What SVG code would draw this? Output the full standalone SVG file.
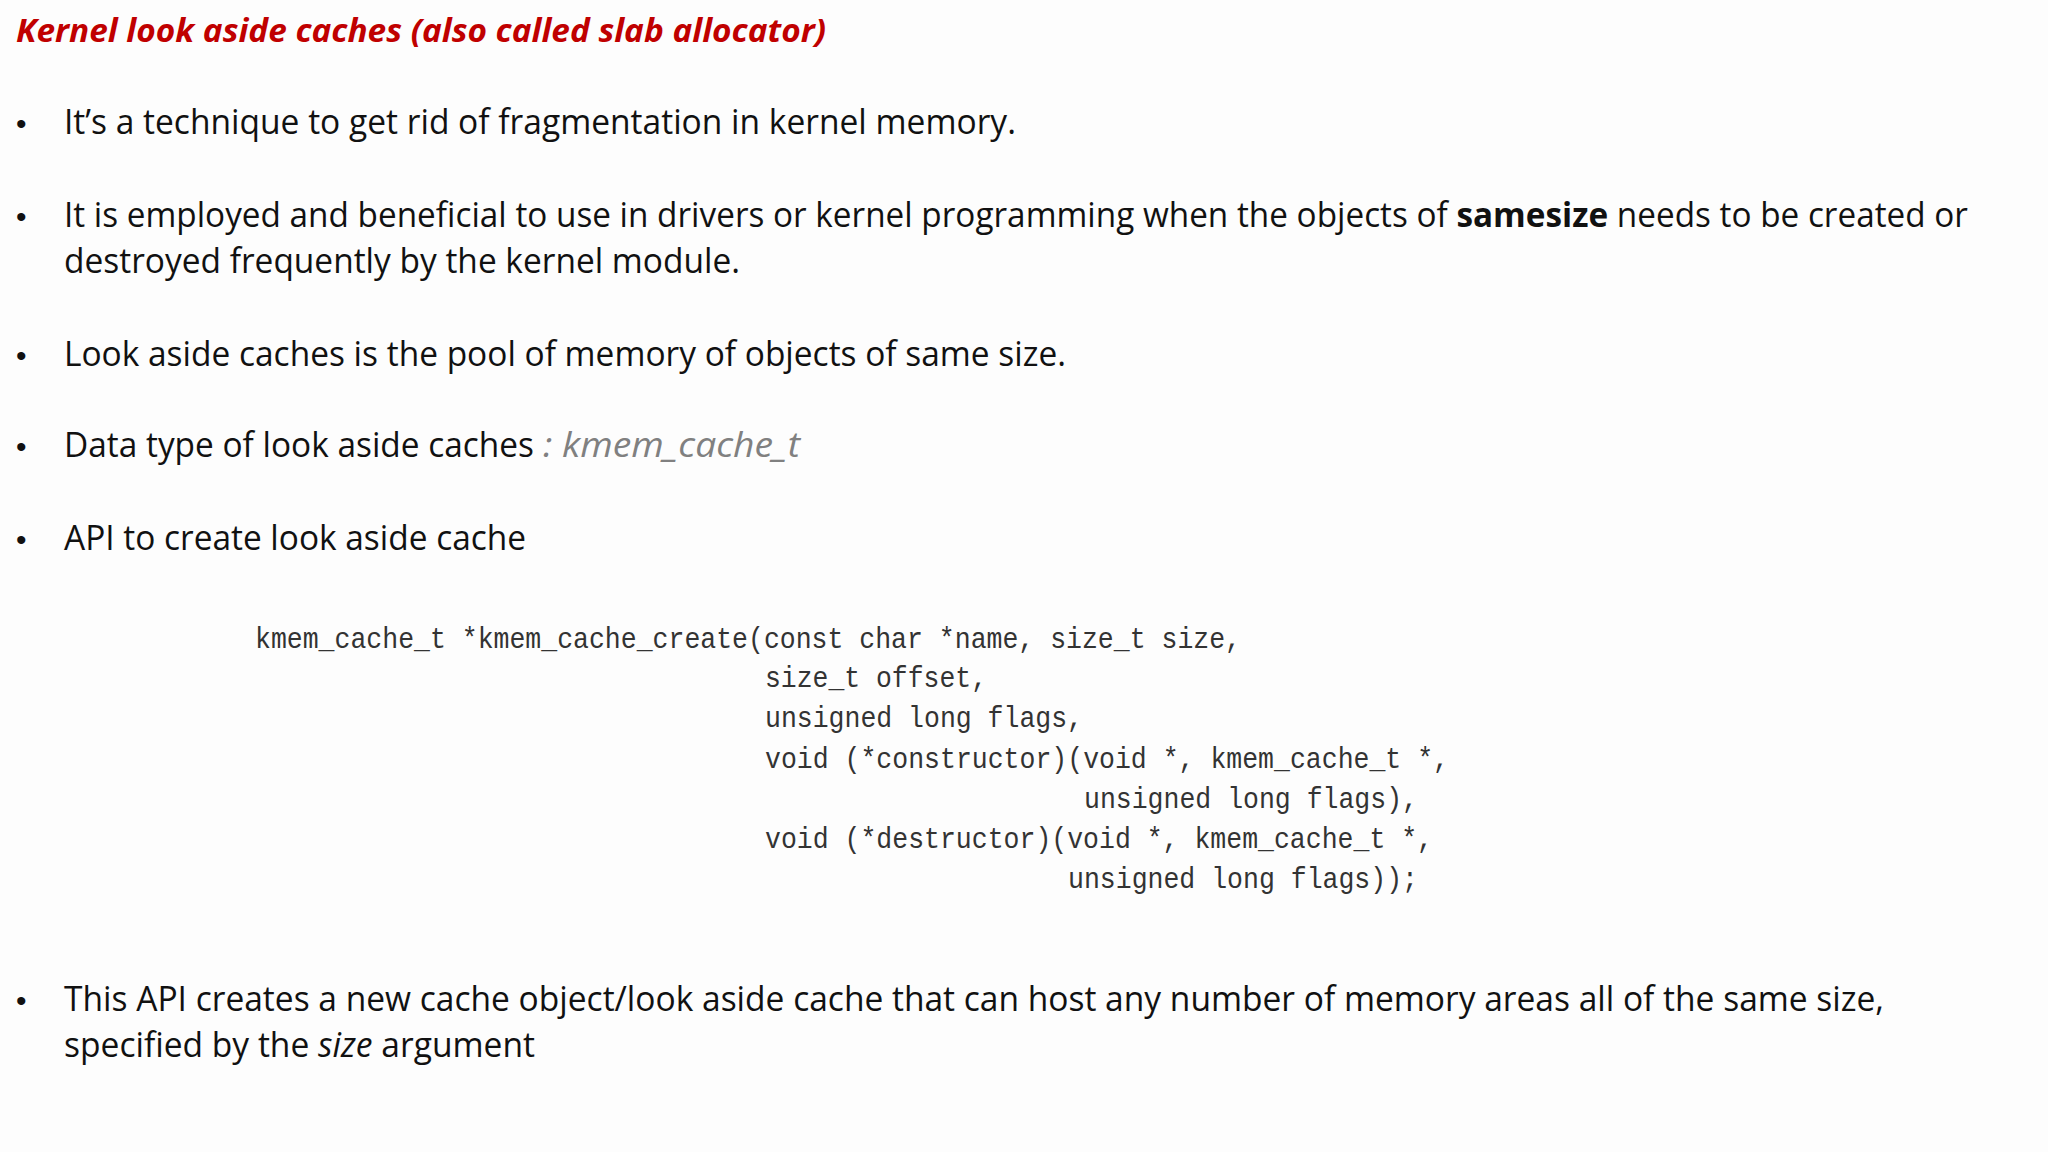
<svg xmlns="http://www.w3.org/2000/svg" width="2048" height="1152" viewBox="0 0 2048 1152">
<style>
.t{font-family:"Open Sans","Liberation Sans",sans-serif;font-size:34px;fill:#111}
.b{font-family:"Liberation Sans",sans-serif;font-size:30px;fill:#111}
.c{font-family:"Liberation Mono",monospace;font-size:29px;fill:#333}
</style>
<rect width="2048" height="1152" fill="#fdfdfd"/>
<text x="16" y="42" font-family="Open Sans, Liberation Sans, sans-serif" font-size="33" font-weight="bold" font-style="italic" fill="#C00000" textLength="810" lengthAdjust="spacingAndGlyphs">Kernel look aside caches (also called slab allocator)</text>
<g id="bullets">
<text class="b" x="16" y="134">•</text>
<text class="b" x="16" y="227">•</text>
<text class="b" x="16" y="366">•</text>
<text class="b" x="16" y="457">•</text>
<text class="b" x="16" y="550">•</text>
<text class="b" x="16" y="1011">•</text>
</g>
<g id="text">
<text class="t" x="64" y="134" textLength="952" lengthAdjust="spacingAndGlyphs">It’s a technique to get rid of fragmentation in kernel memory.</text>
<text class="t" x="64" y="227" textLength="1904" lengthAdjust="spacingAndGlyphs">It is employed and beneficial to use in drivers or kernel programming when the objects of <tspan font-weight="bold">samesize</tspan> needs to be created or</text>
<text class="t" x="64" y="273" textLength="676" lengthAdjust="spacingAndGlyphs">destroyed frequently by the kernel module.</text>
<text class="t" x="64" y="366" textLength="1002" lengthAdjust="spacingAndGlyphs">Look aside caches is the pool of memory of objects of same size.</text>
<text class="t" x="64" y="457" textLength="470" lengthAdjust="spacingAndGlyphs">Data type of look aside caches</text>
<text class="t" x="543" y="457" textLength="257" lengthAdjust="spacingAndGlyphs" font-style="italic" fill="#808080" style="fill:#808080">: kmem_cache_t</text>
<text class="t" x="64" y="550" textLength="462" lengthAdjust="spacingAndGlyphs">API to create look aside cache</text>
<text class="t" x="64" y="1011" textLength="1820" lengthAdjust="spacingAndGlyphs">This API creates a new cache object/look aside cache that can host any number of memory areas all of the same size,</text>
<text class="t" x="64" y="1057" textLength="471" lengthAdjust="spacingAndGlyphs">specified by the <tspan font-style="italic">size</tspan> argument</text>
</g>
<g id="code">
<text class="c" x="255" y="648" textLength="986" lengthAdjust="spacingAndGlyphs">kmem_cache_t *kmem_cache_create(const char *name, size_t size,</text>
<text class="c" x="765" y="687" textLength="222" lengthAdjust="spacingAndGlyphs">size_t offset,</text>
<text class="c" x="765" y="727" textLength="318" lengthAdjust="spacingAndGlyphs">unsigned long flags,</text>
<text class="c" x="765" y="768" textLength="684" lengthAdjust="spacingAndGlyphs">void (*constructor)(void *, kmem_cache_t *,</text>
<text class="c" x="1084" y="808" textLength="334" lengthAdjust="spacingAndGlyphs">unsigned long flags),</text>
<text class="c" x="765" y="848" textLength="668" lengthAdjust="spacingAndGlyphs">void (*destructor)(void *, kmem_cache_t *,</text>
<text class="c" x="1068" y="888" textLength="350" lengthAdjust="spacingAndGlyphs">unsigned long flags));</text>
</g>
</svg>
